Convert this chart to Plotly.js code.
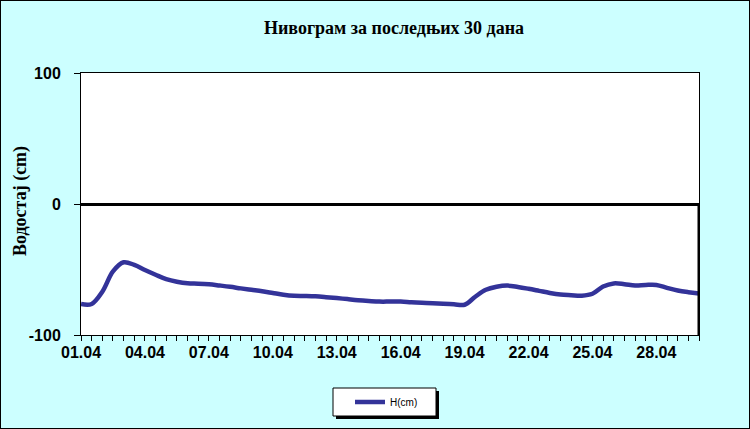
<!DOCTYPE html>
<html>
<head>
<meta charset="utf-8">
<script src="https://cdn.plot.ly/plotly-3.0.1.min.js"></script>
<style>
html,body{margin:0;padding:0;background:#ccffff;}
#chart{width:748px;height:427px;border:1px solid #000;}
</style>
</head>
<body>
<div id="chart"></div>
<script>
// Half-day sampling points (day of month), 01.04 00h .. 30.04 00h
const days = [1,1.5,2,2.5,3,3.5,4,4.5,5,5.5,6,6.5,7,7.5,8,8.5,9,9.5,10,10.5,
  11,11.5,12,12.5,13,13.5,14,14.5,15,15.5,16,16.5,17,17.5,18,18.5,19,19.5,20,20.5,
  21,21.5,22,22.5,23,23.5,24,24.5,25,25.5,26,26.5,27,27.5,28,28.5,29,29.5,30];
// Water level H (cm)
const levels = [-76.3,-76.3,-67,-51.5,-44.5,-46.5,-50.4,-54,-57.3,-59.3,
  -60.5,-60.8,-61.3,-62.2,-63.2,-64.4,-65.5,-66.6,-67.9,-69.2,
  -70,-70.2,-70.5,-71.1,-71.8,-72.6,-73.4,-74,-74.5,-74.5,
  -74.5,-75,-75.4,-75.8,-76.1,-76.5,-76.9,-70.8,-65.5,-63.2,
  -62.3,-63.3,-64.7,-66.3,-67.9,-69.1,-69.6,-70,-68.5,-63,
  -60.6,-61.2,-62.2,-61.8,-61.8,-64,-66,-67.3,-68.3];
const labelDays = [1,4,7,10,13,16,19,22,25,28];
const tickLabels = ['01.04','04.04','07.04','10.04','13.04','16.04','19.04','22.04','25.04','28.04'];
const yTicks = [-100, 0, 100];
const yTickLabels = ['-100', '0', '100'];
const seriesName = 'H(cm)';
const titleText = 'Нивограм за последњих 30 дана';
const yTitle = 'Водостај (cm)';

const ticktext = days.map(d => {
  const k = labelDays.indexOf(d);
  return k >= 0 ? tickLabels[k] : '';
});

// layout geometry (plotly px): plot area left 80, top 72, width 618, height 262
const W = 748, H = 427, L = 80, T = 72, PW = 618, PH = 262;
const px = x => (x - 1 - L) / PW;
const py = y => (T + PH - (y - 1)) / PH;

const trace = {
  x: days, y: levels, type: 'scatter', mode: 'lines', name: seriesName,
  line: {color: '#333399', width: 4.5, shape: 'spline', smoothing: 1}
};

const layout = {
  width: W, height: H,
  margin: {l: L, r: W - L - PW, t: T, b: H - T - PH, pad: 0},
  paper_bgcolor: '#ccffff', plot_bgcolor: '#ffffff',
  title: {
    text: titleText, x: 393 / W, xanchor: 'center', y: 1 - 27 / H, yanchor: 'middle',
    yref: 'container', xref: 'container',
    font: {family: 'Liberation Serif', size: 18, weight: 'bold', color: '#000'}
  },
  xaxis: {
    range: [1, 30], tickmode: 'array', tickvals: days, ticktext: ticktext,
    ticks: 'outside', ticklen: 5, tickwidth: 1, tickcolor: '#000',
    showline: true, linecolor: '#000', linewidth: 1, mirror: true,
    showgrid: false, zeroline: false, ticklabelstandoff: -2,
    tickfont: {family: 'Liberation Sans', size: 16, weight: 'bold', color: '#000'},
    fixedrange: true
  },
  yaxis: {
    range: [-100, 100], tickmode: 'array', tickvals: yTicks, ticktext: yTickLabels,
    ticks: 'outside', ticklen: 6, tickwidth: 1, tickcolor: '#000',
    showline: true, linecolor: '#000', linewidth: 1, mirror: true,
    showgrid: false, zeroline: true, zerolinecolor: '#000', zerolinewidth: 3,
    ticklabelstandoff: 10,
    tickfont: {family: 'Liberation Sans', size: 16, weight: 'bold', color: '#000'},
    fixedrange: true
  },
  annotations: [
    {text: yTitle, xref: 'paper', yref: 'paper', x: px(20), y: py(201),
     xanchor: 'center', yanchor: 'middle', textangle: -90, showarrow: false,
     font: {family: 'Liberation Serif', size: 18, weight: 'bold', color: '#000'}}
  ],
  showlegend: true,
  legend: {
    x: px(350), xanchor: 'left', y: py(402), yanchor: 'middle',
    bgcolor: 'rgba(0,0,0,0)', borderwidth: 0,
    font: {family: 'Liberation Sans', size: 10, color: '#000'}
  },
  shapes: [
    {type: 'line', xref: 'x', yref: 'y', x0: 30, x1: 30, y0: -100, y1: 0,
     line: {color: '#000', width: 3}, layer: 'above'},
    {type: 'rect', xref: 'paper', yref: 'paper', x0: px(336), x1: px(439), y0: py(419), y1: py(391),
     fillcolor: '#000', line: {width: 0}, layer: 'above'},
    {type: 'rect', xref: 'paper', yref: 'paper', x0: px(333), x1: px(436), y0: py(416), y1: py(388),
     fillcolor: '#fff', line: {color: '#000', width: 1}, layer: 'above'}
  ]
};

Plotly.newPlot('chart', [trace], layout, {displayModeBar: false, staticPlot: true});
</script>
</body>
</html>
